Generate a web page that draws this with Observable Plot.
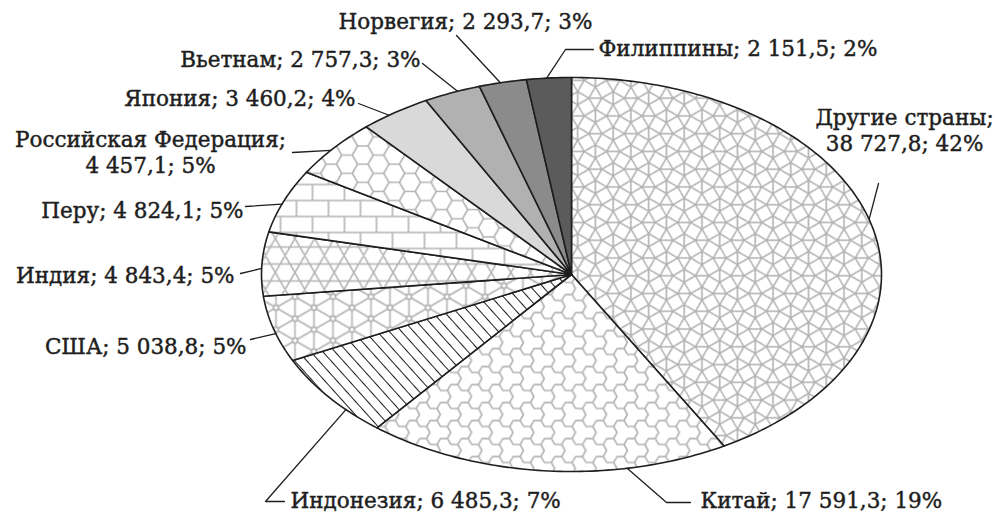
<!DOCTYPE html>
<html><head><meta charset="utf-8">
<script src="https://cdn.jsdelivr.net/npm/d3@7"></script>
<script src="https://cdn.jsdelivr.net/npm/@observablehq/plot@0.6"></script>
<style>html,body{margin:0;padding:0;background:#fff;} svg{display:block;}</style>
</head><body><div id="chart"></div>
<script>
// ---- data ----
const countries = ["Другие страны", "Китай", "Индонезия", "США", "Индия", "Перу",
  "Российская Федерация", "Япония", "Вьетнам", "Норвегия", "Филиппины"];
const values = [38727.8, 17591.3, 6485.3, 5038.8, 4843.4, 4824.1, 4457.1, 3460.2, 2757.3, 2293.7, 2151.5];
const percents = [42, 19, 7, 5, 5, 5, 5, 4, 3, 3, 2];

// ---- styles / layout (not data) ----
const fills = ["url(#p-snub)", "url(#p-tref)", "url(#p-diag)", "url(#p-tri)", "url(#p-kag)",
  "url(#p-brick)", "url(#p-hex)", "#d9d9d9", "#b1b1b1", "#8b8b8b", "#5b5b5b"];
const W = 996, H = 516, cx = 571, cy = 274, rx = 310, ry = 197;
const X = px => (px - cx) / rx, Y = py => (cy - py) / ry;
// label placement: where on the slice the leader starts (0..1), text anchor, text position, leader bends (px)
const layout = [
  {at: 0.49, anchor: "middle", tx: 904, ty: 129, brk: true,  path: [[878, 183]]},
  {at: 0.28, anchor: "start",  tx: 700, ty: 499, brk: false, path: [[666, 502], [690, 502]]},
  {at: 0.31, anchor: "start",  tx: 290, ty: 499, brk: false, path: [[265, 501], [284, 501]]},
  {at: 0.43, anchor: "end",    tx: 246, ty: 345, brk: false, path: [[250, 339]]},
  {at: 0.43, anchor: "end",    tx: 234, ty: 274, brk: false, path: [[240, 273]]},
  {at: 0.45, anchor: "end",    tx: 243, ty: 209, brk: false, path: [[245, 206]]},
  {at: 0.45, anchor: "middle", tx: 150, ty: 151, brk: true,  path: [[292, 152]]},
  {at: 0.40, anchor: "end",    tx: 355, ty: 97,  brk: false, path: [[358, 103]]},
  {at: 0.60, anchor: "end",    tx: 420, ty: 58,  brk: false, path: [[422, 63]]},
  {at: 0.45, anchor: "middle", tx: 465, ty: 20,  brk: false, path: [[456, 35]]},
  {at: 0.45, anchor: "start",  tx: 598, ty: 47,  brk: false, path: [[565, 49], [593, 49]]}
];

const fmt = d3.formatLocale({decimal: ",", thousands: " ", grouping: [3]}).format(",.1f");

// ---- geometry from data ----
const arcs = d3.pie().sort(null).startAngle(0).endAngle(2 * Math.PI)(values);
const slices = arcs.map((a, i) => {
  const n = Math.max(6, Math.ceil((a.endAngle - a.startAngle) / (Math.PI / 180)));
  const pts = [{x: 0, y: 0}];
  for (let k = 0; k <= n; k++) {
    const t = a.startAngle + (a.endAngle - a.startAngle) * k / n;
    pts.push({x: Math.sin(t), y: Math.cos(t)});
  }
  return pts;
});
const leaders = [], labels = [];
arcs.forEach((a, i) => {
  const L = layout[i];
  const t = a.startAngle + (a.endAngle - a.startAngle) * L.at;
  leaders.push({k: i, x: Math.sin(t), y: Math.cos(t)});
  L.path.forEach(([px, py]) => leaders.push({k: i, x: X(px), y: Y(py)}));
  const txt = L.brk
    ? `${countries[i]};\n${fmt(values[i])}; ${percents[i]}%`
    : `${countries[i]}; ${fmt(values[i])}; ${percents[i]}%`;
  labels.push({x: X(L.tx), y: Y(L.ty), text: txt, anchor: L.anchor});
});

const font = {fontFamily: "DejaVu Serif", fontSize: 21.5, fill: "#1e1e1e", stroke: "#1e1e1e", strokeWidth: 0.45,
  lineAnchor: "middle", lineHeight: 1.2};
const svg = Plot.plot({
  width: W, height: H, margin: 0,
  x: {domain: [-1, 1], range: [cx - rx, cx + rx], axis: null},
  y: {domain: [-1, 1], range: [cy + ry, cy - ry], axis: null},
  marks: [
    ...slices.map((pts, i) => Plot.line(pts, {x: "x", y: "y", fill: fills[i], stroke: "#1e1e1e", strokeWidth: 1.6, curve: "linear-closed", strokeLinejoin: "round"})),
    Plot.line(leaders, {x: "x", y: "y", z: "k", stroke: "#1e1e1e", strokeWidth: 1.3}),
    ...["start", "middle", "end"].map(an => Plot.text(labels.filter(d => d.anchor === an), {x: "x", y: "y", text: "text", textAnchor: an, ...font}))
  ]
});

// ---- fill patterns ----
const defs = d3.select(svg).insert("defs", ":first-child");
const GRAY = "#b3b3b3", GW = 1.6;
function pat(id, w, h, d, opts = {}) {
  const p = defs.append("pattern").attr("id", id).attr("patternUnits", "userSpaceOnUse")
    .attr("width", w).attr("height", h);
  if (opts.transform) p.attr("patternTransform", opts.transform);
  p.append("rect").attr("width", w).attr("height", h).attr("fill", "#fff");
  p.append("path").attr("d", d).attr("fill", "none").attr("stroke", opts.stroke || GRAY)
    .attr("stroke-width", opts.sw || GW).attr("stroke-linejoin", "round");
  return p;
}
// snub square tiling
(function () {
  const e = 13, L = e * (1 + Math.sqrt(3)) / Math.SQRT2, r = e / Math.SQRT2;
  const pt = (ox, oy, deg) => [ox + r * Math.cos(deg * Math.PI / 180), oy + r * Math.sin(deg * Math.PI / 180)];
  let d = "";
  for (let i = -1; i <= 1; i++) for (let j = -1; j <= 1; j++) {
    const ox = i * L, oy = j * L;
    const A = [30, 120, 210, 300].map(a => pt(ox, oy, a));
    const B = [60, 150, 240, 330].map(a => pt(ox + L / 2, oy + L / 2, a));
    d += "M" + A.join("L") + "Z" + "M" + B.join("L") + "Z";
    d += `M${A[0]}L${A[2][0] + L},${A[2][1]}`;
    d += `M${A[1]}L${A[3][0]},${A[3][1] + L}`;
  }
  pat("p-snub", L, L, d, {transform: "rotate(45)"});
})();
// trefoil (bent honeycomb)
(function () {
  const R = 12, dd = 0.28, w = Math.sqrt(3) * R, HH = 3 * R;
  let p = "";
  for (let j = -1; j <= 2; j++) for (let i = -1; i <= 2; i++) {
    for (const [hx, hy] of [[i * w, j * HH], [i * w + w / 2, j * HH + 1.5 * R]]) {
      const v = [];
      for (let k = 0; k < 6; k++) { const a = (-90 + 60 * k) * Math.PI / 180; v.push([hx + R * Math.cos(a), hy + R * Math.sin(a)]); }
      for (let k = 0; k < 6; k++) {
        let P = v[k], Q = v[(k + 1) % 6];
        if (k % 2 === 1) [P, Q] = [Q, P];
        const dx = Q[0] - P[0], dy = Q[1] - P[1];
        const mx = (P[0] + Q[0]) / 2 - dy * dd, my = (P[1] + Q[1]) / 2 + dx * dd;
        p += `M${P}L${mx},${my}L${Q}`;
      }
    }
  }
  pat("p-tref", w, HH, p);
})();
// diagonal hatch
pat("p-diag", 9, 10, "M4.5,-2V12", {transform: "rotate(-42)", stroke: "#1e1e1e", sw: 1});
// triangular lattice with vertical lines and node rings
(function () {
  const s = 19, a = 2 * s / Math.sqrt(3);
  let d = `M${s / 2},-1V${a + 1}M${1.5 * s},-1V${a + 1}`;
  for (let m = -3; m <= 3; m++) {
    const x0 = -s, x1 = 3 * s;
    d += `M${x0},${(x0 - s / 2) / Math.sqrt(3) + m * a}L${x1},${(x1 - s / 2) / Math.sqrt(3) + m * a}`;
    d += `M${x0},${-(x0 - s / 2) / Math.sqrt(3) + m * a}L${x1},${-(x1 - s / 2) / Math.sqrt(3) + m * a}`;
  }
  const p = pat("p-tri", 2 * s, a, d);
  for (const [x, y] of [[s / 2, 0], [s / 2, a], [1.5 * s, a / 2]])
    p.append("circle").attr("cx", x).attr("cy", y).attr("r", 2.6).attr("fill", "#fff").attr("stroke", GRAY).attr("stroke-width", GW);
})();
// kagome (star lattice)
(function () {
  const h = 17, w = 2 * h / Math.sqrt(3);
  let d = `M-1,${h / 2}H${w + 1}M-1,${1.5 * h}H${w + 1}`;
  for (let n = -3; n <= 3; n++) {
    const y0 = -h, y1 = 3 * h;
    d += `M${y0 / Math.sqrt(3) + n * w},${y0}L${y1 / Math.sqrt(3) + n * w},${y1}`;
    d += `M${-y0 / Math.sqrt(3) + n * w},${y0}L${-y1 / Math.sqrt(3) + n * w},${y1}`;
  }
  pat("p-kag", w, 2 * h, d);
})();
// bricks
pat("p-brick", 32, 32, "M-1,8H33M-1,24H33M8,8V24M24,24V33M24,-1V8");
// flat-top honeycomb
(function () {
  const R = 10.5, hh = Math.sqrt(3) * R, w = 3 * R;
  let d = "";
  for (let i = -1; i <= 2; i++) for (let j = -1; j <= 2; j++) {
    for (const [hx, hy] of [[i * w, j * hh], [i * w + 1.5 * R, j * hh + hh / 2]]) {
      const v = [];
      for (let k = 0; k < 6; k++) { const a = 60 * k * Math.PI / 180; v.push([hx + R * Math.cos(a), hy + R * Math.sin(a)]); }
      d += "M" + v.join("L") + "Z";
    }
  }
  pat("p-hex", w, hh, d);
})();

document.getElementById("chart").appendChild(svg);
</script>
</body></html>
